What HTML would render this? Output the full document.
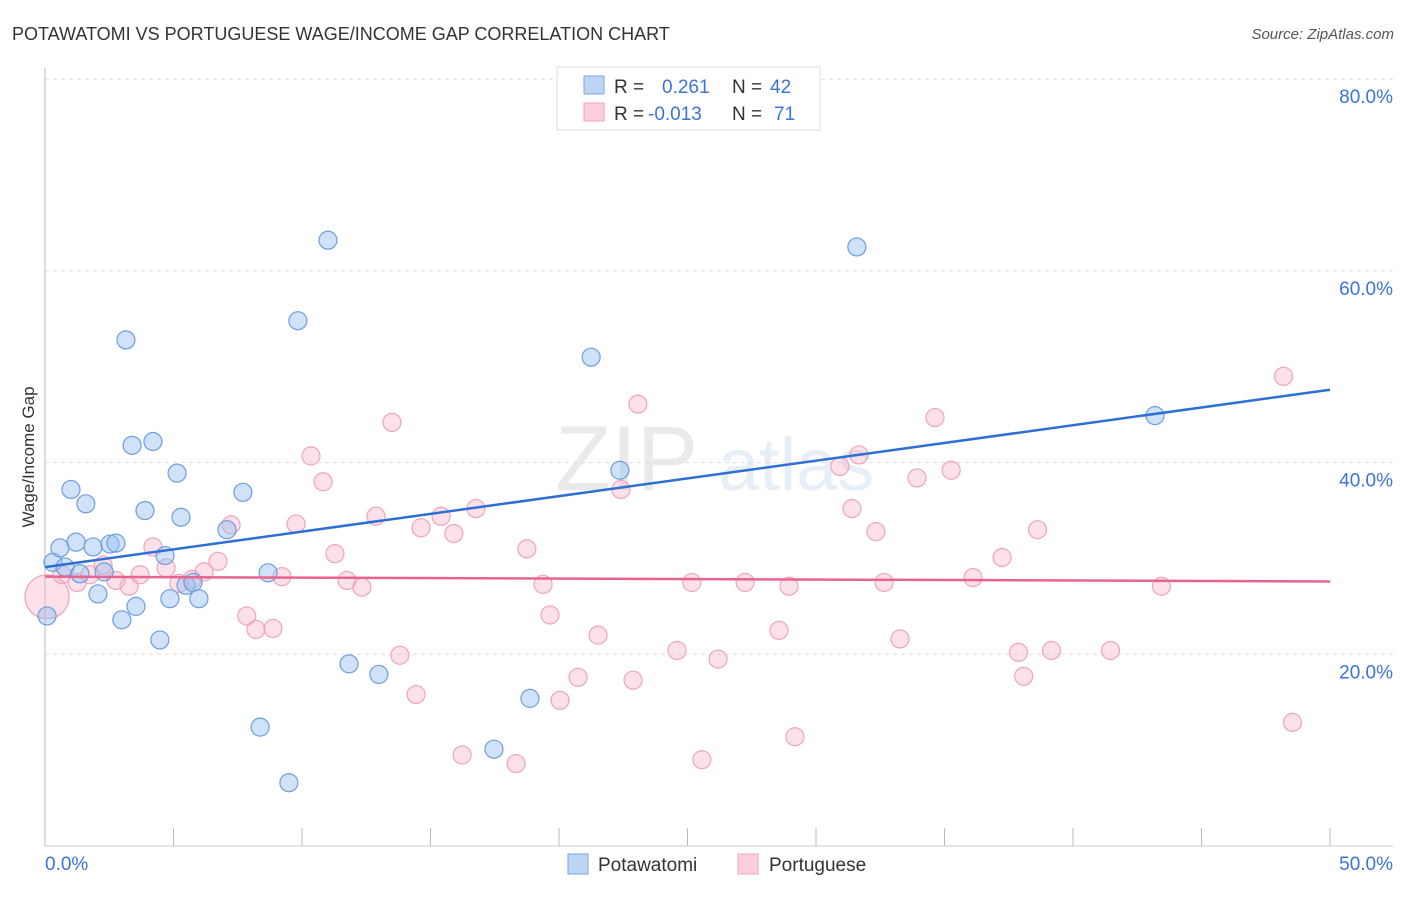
<!DOCTYPE html>
<html><head><meta charset="utf-8"><style>
body{margin:0;background:#fff;font-family:"Liberation Sans",sans-serif}
svg text{font-family:"Liberation Sans",sans-serif}
</style></head><body>
<svg id="chart" width="1406" height="892" xmlns="http://www.w3.org/2000/svg">
<text x="12" y="40" font-size="18" fill="#333">POTAWATOMI VS PORTUGUESE WAGE/INCOME GAP CORRELATION CHART</text>
<text x="1394" y="39" font-size="15" fill="#555" text-anchor="end" font-style="italic">Source: ZipAtlas.com</text>
<g opacity="0.13"><text x="555" y="490" font-size="92" font-family="Liberation Serif,serif" fill="#666">ZIP</text><text x="718" y="490" font-size="74" fill="#4a7fd0">atlas</text></g>
<g id="grid"></g>
<g id="axes"></g>
<g id="pts"></g>
<g id="trend"></g>
<text transform="translate(34,457) rotate(-90)" font-size="17" fill="#333" text-anchor="middle">Wage/Income Gap</text>
<g>
<rect x="557" y="67" width="263" height="63" fill="#fff" stroke="#ddd"/>
<rect x="584" y="76" width="20" height="18" fill="#bcd5f5" stroke="#7aa7e6"/>
<rect x="584" y="103" width="20" height="18" fill="#fbd0dc" stroke="#f0a0b8"/>
<text x="614" y="93" font-size="19" fill="#333">R = <tspan fill="#3b74d6" x="662">0.261</tspan><tspan x="732" fill="#333">N = </tspan><tspan fill="#3b74d6" x="770">42</tspan></text>
<text x="614" y="120" font-size="19" fill="#333">R = <tspan fill="#3b74d6" x="648">-0.013</tspan><tspan x="732" fill="#333">N = </tspan><tspan fill="#3b74d6" x="774">71</tspan></text>
</g>
<g>
<rect x="568" y="854" width="20" height="20" fill="#bcd5f5" stroke="#7aa7e6"/>
<text x="598" y="871" font-size="19" fill="#333">Potawatomi</text>
<rect x="738" y="854" width="20" height="20" fill="#fbd0dc" stroke="#f0a0b8"/>
<text x="769" y="871" font-size="19" fill="#333">Portuguese</text>
</g>
</svg>
<script>
const yTicks=[20,40,60,80];
const xTickLabels=["0.0%","50.0%"];
const blueX=[0.08,0.31,0.58,1.01,1.21,0.78,1.59,1.36,1.87,2.06,2.30,2.53,2.76,2.99,3.15,3.39,3.54,3.89,4.20,4.47,4.67,4.86,5.14,5.29,5.49,5.76,5.99,7.08,7.70,8.37,8.68,9.49,9.84,11.01,11.83,12.99,18.87,17.47,21.25,22.37,31.59,43.19];
const blueY=[24.0,29.6,31.1,37.2,31.7,29.1,35.7,28.4,31.2,26.3,28.6,31.5,31.6,23.6,52.8,41.8,25.0,35.0,42.2,21.5,30.3,25.8,38.9,34.3,27.2,27.5,25.8,33.0,36.9,12.4,28.5,6.6,54.8,63.2,19.0,17.9,15.4,10.1,51.0,39.2,62.5,44.9];
const pinkX=[0.08,0.66,1.25,1.75,2.26,2.76,3.27,3.70,4.20,4.71,5.21,5.72,6.19,6.73,7.24,7.85,8.21,8.87,9.22,9.77,10.35,10.82,11.28,11.75,12.33,12.88,13.50,13.81,14.44,14.63,15.41,15.91,16.23,16.77,18.33,18.75,19.38,19.65,20.04,20.74,21.52,22.41,22.88,23.07,24.59,25.17,25.56,26.19,27.24,28.56,28.95,29.18,30.93,31.40,31.67,32.33,32.65,33.27,33.93,34.63,35.26,36.11,37.24,37.88,38.08,38.62,39.16,41.46,43.44,48.19,48.54];
const pinkY=[26.0,28.3,27.5,28.3,29.3,27.7,27.1,28.3,31.2,29.0,27.4,27.8,28.6,29.7,33.5,24.0,22.6,22.7,28.1,33.6,40.7,38.0,30.5,27.7,27.0,34.4,44.2,19.9,15.8,33.2,34.4,32.6,9.5,35.2,8.6,31.0,27.3,24.1,15.2,17.6,22.0,37.2,17.3,46.1,20.4,27.5,9.0,19.5,27.5,22.5,27.1,11.4,39.6,35.2,40.8,32.8,27.5,21.6,38.4,44.7,39.2,28.0,30.1,20.2,17.7,33.0,20.4,20.4,27.1,49.0,12.9];
const trendBlue=[29.1,47.6];
const trendPink=[28.1,27.6];
const X0=45,X1=1330,Y0=846,PY=191.7/20;
const xs=v=>X0+v/50*(X1-X0);
const ys=v=>Y0-v*PY;
const NS="http://www.w3.org/2000/svg";
function mk(tag,attrs,parent){const e=document.createElementNS(NS,tag);for(const k in attrs)e.setAttribute(k,attrs[k]);parent.appendChild(e);return e;}
const grid=document.getElementById('grid'),axes=document.getElementById('axes');
yTicks.forEach(t=>{
 const l=mk('line',{x1:45,x2:1393,y1:ys(t),y2:ys(t),stroke:'#ddd','stroke-dasharray':'4,4'},grid);
 
 
 const tx=mk('text',{x:1393,y:ys(t)+24,'font-size':19,fill:'#3b74d6','text-anchor':'end'},axes);
 tx.textContent=t.toFixed(1)+'%';
 
 
});
mk('line',{x1:45,x2:45,y1:68,y2:846,stroke:'#bbb'},axes);
mk('line',{x1:45,x2:1393,y1:846,y2:846,stroke:'#ccc'},axes);
for(let i=0;i<=10;i++){const t=mk('line',{x1:xs(i*5),x2:xs(i*5),y1:828,y2:846,stroke:'#bbb'},axes);
 
 }
const l0=mk('text',{x:45,y:870,'font-size':19,fill:'#3b74d6'},axes);l0.textContent=xTickLabels[0];

const l1=mk('text',{x:1393,y:870,'font-size':19,fill:'#3b74d6','text-anchor':'end'},axes);l1.textContent=xTickLabels[1];

const pts=document.getElementById('pts');
pinkX.forEach((v,i)=>{
 const c=mk('circle',{cx:xs(v),cy:ys(pinkY[i]),r:i===0?22:9,fill:'rgba(247,170,195,0.35)',stroke:'#f0a3bb','stroke-width':1.2},pts);
 
 
});
blueX.forEach((v,i)=>{
 const c=mk('circle',{cx:xs(v),cy:ys(blueY[i]),r:9,fill:'rgba(150,190,240,0.45)',stroke:'#6d9de0','stroke-width':1.2},pts);
 
 
});
const tr=document.getElementById('trend');
const tb=mk('line',{x1:xs(0),x2:xs(50),y1:ys(trendBlue[0]),y2:ys(trendBlue[1]),stroke:'#2e6fd6','stroke-width':2.5},tr);


const tp=mk('line',{x1:xs(0),x2:xs(50),y1:ys(trendPink[0]),y2:ys(trendPink[1]),stroke:'#e8648f','stroke-width':2.5},tr);


</script>
</body></html>
